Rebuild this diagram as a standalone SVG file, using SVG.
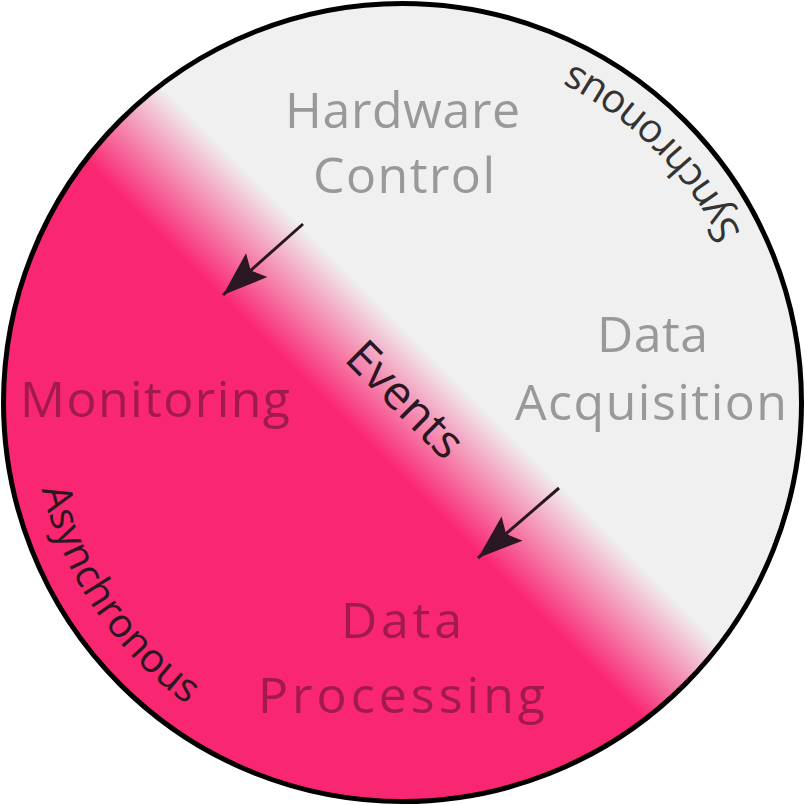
<svg xmlns="http://www.w3.org/2000/svg" width="805" height="805" viewBox="0 0 805 805">
  <defs>
    <linearGradient id="bg" gradientUnits="userSpaceOnUse" x1="364.5" y1="439.5" x2="439.5" y2="364.5">
      <stop offset="0" stop-color="#f92672"/>
      <stop offset="1" stop-color="#f0f0f0"/>
    </linearGradient>
    <marker id="ah" markerUnits="userSpaceOnUse" viewBox="-46 -20 50 40" markerWidth="50" markerHeight="40" refX="0" refY="0" orient="auto">
      <path d="M0,0 L-45,-16 Q-40,-6 -37,0 Q-40,6 -45,16 Z" fill="#2b1721"/>
    </marker>
    <path id="syncPath" d="M774.8,336.9 A378,378 0 0 0 468.1,30.2" fill="none"/>
    <path id="asyncPath" d="M31.6,396 A371,371 0 0 0 269.6,748.9" fill="none"/>
    <style>
      .lbl { font-family: "Open Sans", "Noto Sans", sans-serif; font-size: 50px; text-anchor: middle; }
      .sync { fill: #999999; }
      .async { fill: #a11a4e; }
      .arc { font-family: "Open Sans", "Noto Sans", sans-serif; font-size: 40px; text-anchor: middle; }
      .arrow { stroke: #2b1721; stroke-width: 3; fill: none; marker-end: url(#ah); }
    </style>
  </defs>
  <g id="disc">
    <circle cx="402.5" cy="402.5" r="399" fill="url(#bg)" stroke="#000" stroke-width="5"/>
  </g>
  <g id="synchronous-label">
    <text class="arc" fill="#333333"><textPath href="#syncPath" startOffset="50%">Synchronous</textPath></text>
  </g>
  <g id="asynchronous-label">
    <text class="arc" fill="#2b1721"><textPath href="#asyncPath" startOffset="50%">Asynchronous</textPath></text>
  </g>
  <g id="hardware-control">
    <text class="lbl sync" x="402.5" y="128" textLength="235">Hardware</text>
    <text class="lbl sync" x="404" y="193" textLength="182">Control</text>
  </g>
  <g id="data-acquisition">
    <text class="lbl sync" x="652.5" y="352" font-size="52" textLength="111">Data</text>
    <text class="lbl sync" x="651" y="420" font-size="52" textLength="272">Acquisition</text>
  </g>
  <g id="monitoring">
    <text class="lbl async" x="155" y="417" textLength="270">Monitoring</text>
  </g>
  <g id="data-processing">
    <text class="lbl async" x="401.5" y="638" font-size="53" textLength="121">Data</text>
    <text class="lbl async" x="401.5" y="713" font-size="53" textLength="287">Processing</text>
  </g>
  <g id="events">
    <text transform="translate(394,411) rotate(45)" font-family="Open Sans, Noto Sans, sans-serif" font-size="47" text-anchor="middle" fill="#2b1721">Events</text>
  </g>
  <g id="connectors">
    <line class="arrow" x1="303" y1="224" x2="223" y2="295"/>
    <line class="arrow" x1="559" y1="488" x2="478" y2="558"/>
  </g>
</svg>
